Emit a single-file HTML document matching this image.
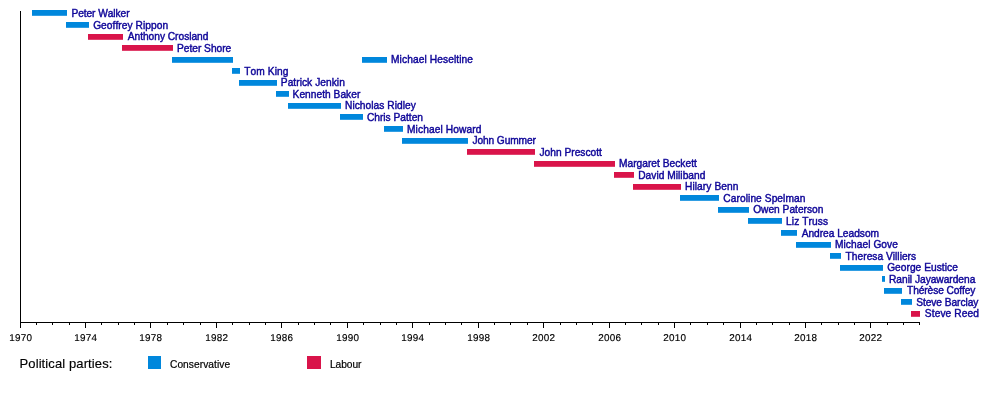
<!DOCTYPE html>
<html lang="en">
<head>
<meta charset="utf-8">
<title>Secretaries of State for the Environment timeline</title>
<style>
html,body{margin:0;padding:0;background:#fff;}
body{width:1000px;height:412px;overflow:hidden;}
svg{display:block;will-change:transform;}
text{font-family:"Liberation Sans",Arial,Helvetica,sans-serif;font-kerning:none;}
.nm{font-size:10.2px;fill:#0E0598;stroke:#0E0598;stroke-width:0.42px;}
.ax{font-size:9.9px;letter-spacing:0.3px;text-rendering:geometricPrecision;fill:#000;stroke:#000;stroke-width:0.15px;text-anchor:middle;}
.lg{font-size:10.2px;fill:#000;stroke:#000;stroke-width:0.2px;}
.lt{font-size:13px;fill:#000;stroke:#000;stroke-width:0.15px;}
</style>
</head>
<body>
<svg width="1000" height="412" viewBox="0 0 1000 412">
<rect x="0" y="0" width="1000" height="412" fill="#fff"/>

<g>
<rect x="32.00" y="10.00" width="35.00" height="5.80" fill="#0087DC"/>
<rect x="66.00" y="22.00" width="23.00" height="5.80" fill="#0087DC"/>
<rect x="88.00" y="34.00" width="35.00" height="5.80" fill="#D9144A"/>
<rect x="122.00" y="45.00" width="51.00" height="5.80" fill="#D9144A"/>
<rect x="362.00" y="57.00" width="25.00" height="5.80" fill="#0087DC"/>
<rect x="232.00" y="68.00" width="8.00" height="5.80" fill="#0087DC"/>
<rect x="239.00" y="80.00" width="38.00" height="5.80" fill="#0087DC"/>
<rect x="276.00" y="91.00" width="13.00" height="5.80" fill="#0087DC"/>
<rect x="288.00" y="103.00" width="53.00" height="5.80" fill="#0087DC"/>
<rect x="340.00" y="114.00" width="23.00" height="5.80" fill="#0087DC"/>
<rect x="384.00" y="126.00" width="19.00" height="5.80" fill="#0087DC"/>
<rect x="402.00" y="138.00" width="66.00" height="5.80" fill="#0087DC"/>
<rect x="467.00" y="149.00" width="68.00" height="5.80" fill="#D9144A"/>
<rect x="534.00" y="161.00" width="81.00" height="5.80" fill="#D9144A"/>
<rect x="614.00" y="172.00" width="20.00" height="5.80" fill="#D9144A"/>
<rect x="633.00" y="184.00" width="48.00" height="5.80" fill="#D9144A"/>
<rect x="680.00" y="195.00" width="39.00" height="5.80" fill="#0087DC"/>
<rect x="718.00" y="207.00" width="31.00" height="5.80" fill="#0087DC"/>
<rect x="748.00" y="218.00" width="34.00" height="5.80" fill="#0087DC"/>
<rect x="781.00" y="230.00" width="16.00" height="5.80" fill="#0087DC"/>
<rect x="796.00" y="242.00" width="35.00" height="5.80" fill="#0087DC"/>
<rect x="830.00" y="253.00" width="11.00" height="5.80" fill="#0087DC"/>
<rect x="840.00" y="265.00" width="43.00" height="5.80" fill="#0087DC"/>
<rect x="882.00" y="276.00" width="3.00" height="5.80" fill="#0087DC"/>
<rect x="884.00" y="288.00" width="18.00" height="5.80" fill="#0087DC"/>
<rect x="901.00" y="299.00" width="11.00" height="5.80" fill="#0087DC"/>
<rect x="911.00" y="311.00" width="9.00" height="5.80" fill="#D9144A"/>
<rect x="172.00" y="57.00" width="61.00" height="5.80" fill="#0087DC"/>
</g>
<g class="t">
<text class="nm" x="71.41" y="16.50" style="letter-spacing:-0.068px">Peter Walker</text>
<text class="nm" x="93.14" y="28.50" style="letter-spacing:0.064px">Geoffrey Rippon</text>
<text class="nm" x="127.73" y="39.50" style="letter-spacing:-0.020px">Anthony Crosland</text>
<text class="nm" x="177.01" y="51.50" style="letter-spacing:-0.014px">Peter Shore</text>
<text class="nm" x="391.01" y="62.50" style="letter-spacing:0.099px">Michael Heseltine</text>
<text class="nm" x="244.22" y="74.50" style="letter-spacing:0.091px">Tom King</text>
<text class="nm" x="280.81" y="85.50" style="letter-spacing:0.047px">Patrick Jenkin</text>
<text class="nm" x="292.61" y="97.50" style="letter-spacing:0.027px">Kenneth Baker</text>
<text class="nm" x="345.01" y="108.50" style="letter-spacing:0.040px">Nicholas Ridley</text>
<text class="nm" x="366.93" y="120.50" style="letter-spacing:0.005px">Chris Patten</text>
<text class="nm" x="407.01" y="132.50" style="letter-spacing:0.105px">Michael Howard</text>
<text class="nm" x="472.49" y="143.50" style="letter-spacing:-0.109px">John Gummer</text>
<text class="nm" x="539.49" y="155.50" style="letter-spacing:0.006px">John Prescott</text>
<text class="nm" x="619.01" y="166.50" style="letter-spacing:0.016px">Margaret Beckett</text>
<text class="nm" x="638.21" y="178.50" style="letter-spacing:0.030px">David Miliband</text>
<text class="nm" x="685.01" y="189.50" style="letter-spacing:0.078px">Hilary Benn</text>
<text class="nm" x="723.33" y="201.50" style="letter-spacing:0.074px">Caroline Spelman</text>
<text class="nm" x="753.17" y="212.50" style="letter-spacing:0.003px">Owen Paterson</text>
<text class="nm" x="786.01" y="224.50" style="letter-spacing:0.104px">Liz Truss</text>
<text class="nm" x="801.63" y="236.50" style="letter-spacing:-0.015px">Andrea Leadsom</text>
<text class="nm" x="835.01" y="247.50" style="letter-spacing:0.057px">Michael Gove</text>
<text class="nm" x="845.62" y="259.50" style="letter-spacing:0.021px">Theresa Villiers</text>
<text class="nm" x="887.14" y="270.50" style="letter-spacing:0.036px">George Eustice</text>
<text class="nm" x="889.01" y="282.50" style="letter-spacing:-0.020px">Ranil Jayawardena</text>
<text class="nm" x="907.02" y="293.50" style="letter-spacing:-0.099px">Thérèse Coffey</text>
<text class="nm" x="916.19" y="305.50" style="letter-spacing:-0.054px">Steve Barclay</text>
<text class="nm" x="924.79" y="316.50" style="letter-spacing:0.113px">Steve Reed</text>
</g>
<g fill="#000">
<rect x="20" y="11" width="1" height="312"/>
<rect x="20" y="322" width="900" height="1"/>
<rect x="20" y="322" width="1" height="6"/>
<rect x="36" y="322" width="1" height="3"/>
<rect x="52" y="322" width="1" height="3"/>
<rect x="69" y="322" width="1" height="3"/>
<rect x="85" y="322" width="1" height="6"/>
<rect x="101" y="322" width="1" height="3"/>
<rect x="118" y="322" width="1" height="3"/>
<rect x="134" y="322" width="1" height="3"/>
<rect x="150" y="322" width="1" height="6"/>
<rect x="167" y="322" width="1" height="3"/>
<rect x="183" y="322" width="1" height="3"/>
<rect x="200" y="322" width="1" height="3"/>
<rect x="216" y="322" width="1" height="6"/>
<rect x="232" y="322" width="1" height="3"/>
<rect x="249" y="322" width="1" height="3"/>
<rect x="265" y="322" width="1" height="3"/>
<rect x="281" y="322" width="1" height="6"/>
<rect x="298" y="322" width="1" height="3"/>
<rect x="314" y="322" width="1" height="3"/>
<rect x="330" y="322" width="1" height="3"/>
<rect x="347" y="322" width="1" height="6"/>
<rect x="363" y="322" width="1" height="3"/>
<rect x="380" y="322" width="1" height="3"/>
<rect x="396" y="322" width="1" height="3"/>
<rect x="412" y="322" width="1" height="6"/>
<rect x="429" y="322" width="1" height="3"/>
<rect x="445" y="322" width="1" height="3"/>
<rect x="461" y="322" width="1" height="3"/>
<rect x="478" y="322" width="1" height="6"/>
<rect x="494" y="322" width="1" height="3"/>
<rect x="510" y="322" width="1" height="3"/>
<rect x="527" y="322" width="1" height="3"/>
<rect x="543" y="322" width="1" height="6"/>
<rect x="560" y="322" width="1" height="3"/>
<rect x="576" y="322" width="1" height="3"/>
<rect x="592" y="322" width="1" height="3"/>
<rect x="609" y="322" width="1" height="6"/>
<rect x="625" y="322" width="1" height="3"/>
<rect x="641" y="322" width="1" height="3"/>
<rect x="658" y="322" width="1" height="3"/>
<rect x="674" y="322" width="1" height="6"/>
<rect x="690" y="322" width="1" height="3"/>
<rect x="707" y="322" width="1" height="3"/>
<rect x="723" y="322" width="1" height="3"/>
<rect x="740" y="322" width="1" height="6"/>
<rect x="756" y="322" width="1" height="3"/>
<rect x="772" y="322" width="1" height="3"/>
<rect x="789" y="322" width="1" height="3"/>
<rect x="805" y="322" width="1" height="6"/>
<rect x="821" y="322" width="1" height="3"/>
<rect x="838" y="322" width="1" height="3"/>
<rect x="854" y="322" width="1" height="3"/>
<rect x="870" y="322" width="1" height="6"/>
<rect x="887" y="322" width="1" height="3"/>
<rect x="903" y="322" width="1" height="3"/>
<rect x="919" y="322" width="1" height="3"/>
</g>
<g class="t">
<text class="ax" x="20.75" y="341">1970</text>
<text class="ax" x="85.75" y="341">1974</text>
<text class="ax" x="150.75" y="341">1978</text>
<text class="ax" x="216.75" y="341">1982</text>
<text class="ax" x="281.75" y="341">1986</text>
<text class="ax" x="347.75" y="341">1990</text>
<text class="ax" x="412.75" y="341">1994</text>
<text class="ax" x="478.75" y="341">1998</text>
<text class="ax" x="543.75" y="341">2002</text>
<text class="ax" x="609.75" y="341">2006</text>
<text class="ax" x="674.75" y="341">2010</text>
<text class="ax" x="740.75" y="341">2014</text>
<text class="ax" x="805.75" y="341">2018</text>
<text class="ax" x="870.75" y="341">2022</text>
</g>
<g class="t">
<text class="lt" x="19.53" y="368.3" style="letter-spacing:0.107px">Political parties:</text>
<rect x="148" y="356" width="13" height="13" fill="#0087DC"/>
<text class="lg" x="169.98" y="368.4" style="letter-spacing:0.059px">Conservative</text>
<rect x="307" y="356" width="14" height="13" fill="#D9144A"/>
<text class="lg" x="329.96" y="368.4" style="letter-spacing:-0.051px">Labour</text>
</g>
</svg>
</body>
</html>
